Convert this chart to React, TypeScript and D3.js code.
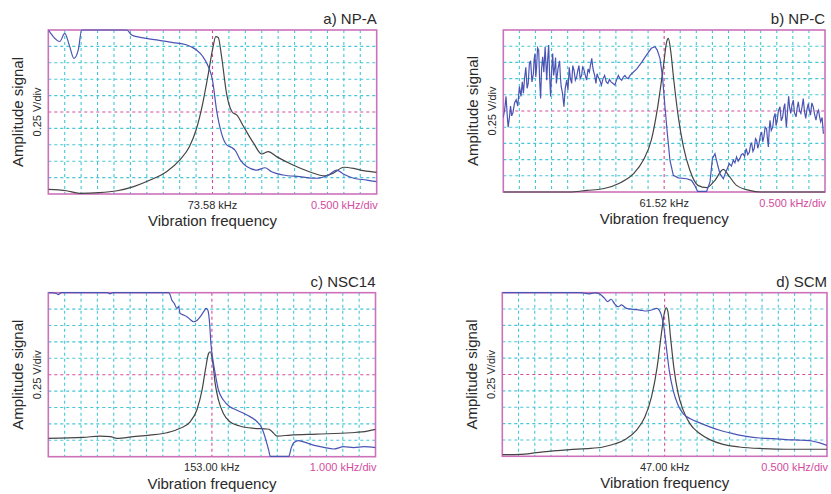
import React from "react";
import * as d3 from "d3";

// ---- Data (x in horizontal divisions 0..20, y in vertical divisions 0..10; 0.25 V/div) ----
const panelTitles = ["a) NP-A", "b) NP-C", "c) NSC14", "d) SCM"];
const centerLabels = ["73.58 kHz", "61.52 kHz", "153.00 kHz", "47.00 kHz"];
const scaleLabels = ["0.500 kHz/div", "0.500 kHz/div", "1.000 kHz/div", "0.500 kHz/div"];
const yAxisLabel = "Amplitude signal";
const yScaleLabel = "0.25 V/div";
const xAxisLabel = "Vibration frequency";

const npaBlack: [number, number][] = [
  [0, 0.28], [1.1, 0.2], [1.9, 0.04], [3.1, 0.08], [4.2, 0.2], [5.2, 0.45], [6.2, 0.85],
  [7.2, 1.36], [8.0, 2.07], [8.6, 2.9], [9.0, 3.9], [9.4, 5.5], [9.75, 7.36], [10.0, 8.8],
  [10.2, 9.6], [10.35, 9.55], [10.55, 8.4], [10.86, 6.1], [11.2, 5.0], [11.5, 4.8],
  [11.9, 4.1], [12.5, 3.1], [13.0, 2.44], [13.4, 2.58], [13.9, 2.28], [14.9, 1.77],
  [15.9, 1.36], [16.85, 1.1], [17.4, 1.3], [18.0, 1.63], [18.6, 1.56], [19.2, 1.42], [20, 1.32],
];
const npaBlue: [number, number][] = [
  [0, 10], [0.15, 9.8], [0.3, 9.6], [0.7, 9.3], [1.0, 9.8], [1.3, 9.0], [1.56, 8.27],
  [1.83, 8.8], [2.03, 10], [3.0, 10], [4.77, 10], [5.08, 9.7], [5.6, 9.55], [6.6, 9.4],
  [7.6, 9.23], [8.4, 9.1], [9.0, 8.8], [9.4, 8.4], [9.75, 7.76], [10.0, 6.95], [10.25, 5.1],
  [10.55, 3.7], [10.86, 3.0], [11.17, 2.83], [11.37, 2.68], [11.7, 2.07], [12.08, 1.67],
  [12.7, 1.46], [13.2, 1.6], [13.6, 1.36], [14.3, 1.16], [15.3, 1.06], [16.3, 0.96],
  [17.06, 1.16], [17.56, 1.46], [17.97, 1.22], [18.6, 0.96], [19.4, 0.85], [20, 0.75],
];
const npcBlack: [number, number][] = [
  [0, 0], [4.1, 0], [5.2, 0.1], [6.2, 0.2], [7.25, 0.56], [8.1, 1.13], [8.7, 1.96],
  [9.2, 3.2], [9.6, 5.26], [9.95, 7.73], [10.16, 9.28], [10.26, 9.48], [10.4, 8.76],
  [10.6, 6.9], [10.88, 4.64], [11.2, 2.78], [11.6, 1.34], [12.1, 0.41], [12.64, 0.27],
  [13.16, 0.72], [13.68, 1.4], [14.0, 1.03], [14.5, 0.41], [15.3, 0.1], [16, 0], [20, 0],
];
const npcBlue: [number, number][] = [
  [0, 4.6], [0.1, 5.2], [0.17, 5.9], [0.24, 4.8], [0.3, 4.0], [0.38, 4.6], [0.45, 5.3],
  [0.52, 4.7], [0.6, 4.9], [0.7, 5.5], [0.8, 5.7], [0.9, 5.3], [1.0, 6.5], [1.1, 5.9],
  [1.18, 6.8], [1.25, 6.1], [1.32, 7.0], [1.4, 7.7], [1.48, 6.4], [1.55, 6.7], [1.62, 7.9],
  [1.7, 8.1], [1.78, 6.8], [1.87, 7.3], [1.92, 8.2], [1.97, 8.55], [2.02, 7.1], [2.07, 7.7],
  [2.13, 8.9], [2.2, 8.76], [2.26, 6.9], [2.32, 5.77], [2.38, 7.6], [2.45, 8.35], [2.52, 7.4],
  [2.6, 8.97], [2.65, 7.9], [2.7, 6.9], [2.76, 8.2], [2.82, 9.07], [2.88, 7.2], [2.94, 5.9],
  [3.0, 7.4], [3.07, 8.55], [3.13, 7.2], [3.2, 7.7], [3.25, 8.3], [3.3, 6.7], [3.4, 7.6],
  [3.5, 8.1], [3.55, 7.1], [3.6, 6.5], [3.68, 6.1], [3.77, 5.26], [3.85, 6.4], [3.94, 6.9],
  [4.02, 6.3], [4.1, 7.7], [4.17, 7.0], [4.25, 6.7], [4.32, 7.8], [4.4, 7.5], [4.48, 6.9],
  [4.56, 7.1], [4.63, 7.5], [4.7, 7.8], [4.78, 7.0], [4.87, 7.2], [4.93, 7.7], [5.0, 7.6],
  [5.1, 7.2], [5.18, 6.9], [5.27, 7.6], [5.35, 7.4], [5.43, 7.9], [5.5, 8.25], [5.55, 7.8],
  [5.6, 7.5], [5.68, 7.2], [5.76, 6.7], [5.83, 7.3], [5.9, 7.1], [6.0, 6.9], [6.1, 6.6],
  [6.2, 7.0], [6.3, 7.2], [6.4, 6.8], [6.5, 6.7], [6.6, 6.95], [6.7, 6.8], [6.82, 6.7],
  [6.94, 6.6], [7.05, 6.95], [7.15, 7.2], [7.25, 7.0], [7.36, 6.9], [7.46, 7.1], [7.56, 7.2],
  [7.66, 7.05], [7.77, 7.0], [7.88, 7.2], [7.98, 7.3], [8.3, 7.6], [8.6, 8.0], [8.9, 8.45],
  [9.2, 8.87], [9.43, 8.97], [9.57, 8.76], [9.74, 8.25], [9.9, 7.1], [10.05, 5.26],
  [10.2, 3.6], [10.36, 1.96], [10.57, 1.03], [10.88, 0.87], [11.4, 0.82], [11.7, 0.72],
  [11.9, 0.41], [12.08, 0.04], [12.64, 0.04], [12.85, 0.62], [13.0, 2.06], [13.16, 2.37],
  [13.33, 1.65], [13.47, 1.13], [13.68, 0.82], [13.84, 1.24], [14.05, 1.75], [14.18, 1.6],
  [14.3, 1.96], [14.4, 1.8], [14.5, 2.16], [14.6, 1.9], [14.7, 2.06], [14.8, 2.3], [14.9, 2.37],
  [15.0, 2.2], [15.1, 2.68], [15.2, 2.3], [15.3, 2.47], [15.37, 2.9], [15.44, 3.0], [15.52, 2.5],
  [15.6, 2.68], [15.68, 3.3], [15.75, 3.2], [15.82, 2.7], [15.9, 3.0], [15.98, 3.5], [16.06, 3.7],
  [16.13, 3.1], [16.2, 3.4], [16.28, 4.0], [16.37, 3.9], [16.42, 3.3], [16.48, 2.78],
  [16.53, 3.8], [16.58, 4.43], [16.66, 3.8], [16.75, 4.0], [16.82, 4.6], [16.9, 4.85],
  [16.96, 4.1], [17.03, 4.43], [17.1, 5.0], [17.2, 5.26], [17.28, 4.4], [17.37, 4.64],
  [17.44, 5.2], [17.5, 5.46], [17.55, 4.6], [17.6, 4.0], [17.67, 5.0], [17.74, 5.9],
  [17.8, 5.2], [17.87, 4.85], [17.95, 5.4], [18.03, 5.67], [18.1, 4.9], [18.2, 4.64],
  [18.27, 5.2], [18.34, 5.57], [18.42, 5.0], [18.5, 4.85], [18.58, 5.3], [18.65, 5.77],
  [18.72, 5.0], [18.8, 4.54], [18.88, 5.1], [18.96, 5.46], [19.03, 5.0], [19.1, 4.74],
  [19.18, 5.5], [19.27, 5.26], [19.35, 4.8], [19.44, 4.43], [19.52, 4.9], [19.6, 5.05],
  [19.67, 4.6], [19.73, 4.33], [19.82, 4.6], [19.9, 3.6],
];
const nscBlack: [number, number][] = [
  [0, 1.12], [2.14, 1.18], [3.16, 1.26], [3.8, 1.22], [4.2, 1.12], [5.2, 1.22], [6.2, 1.32],
  [7.24, 1.46], [8.06, 1.73], [8.67, 2.13], [9.08, 2.85], [9.4, 4.07], [9.6, 5.28],
  [9.8, 6.3], [9.9, 6.4], [10.06, 5.7], [10.2, 4.47], [10.4, 3.46], [10.7, 2.64],
  [11.1, 2.13], [11.7, 1.87], [12.55, 1.73], [13.37, 1.69], [13.57, 1.63], [13.78, 1.42],
  [13.98, 1.26], [14.8, 1.32], [16.4, 1.38], [18.47, 1.46], [19.5, 1.56], [20, 1.67],
];
const nscBlue: [number, number][] = [
  [0, 10], [0.5, 9.95], [0.6, 9.88], [0.8, 10], [3.6, 10], [3.78, 9.93], [3.95, 10],
  [7.35, 10], [7.45, 9.86], [7.55, 9.55], [7.7, 9.35], [7.86, 9.04], [7.96, 9.15],
  [8.06, 8.74], [8.27, 8.64], [8.47, 8.54], [8.67, 8.37], [8.88, 8.23], [9.08, 8.3],
  [9.29, 8.54], [9.5, 8.84], [9.65, 9.04], [9.75, 8.94], [9.86, 8.13], [9.94, 6.9],
  [10.06, 5.9], [10.2, 5.08], [10.4, 4.07], [10.7, 3.46], [11.1, 3.05], [11.5, 2.85],
  [12.14, 2.54], [12.76, 2.13], [13.06, 1.73], [13.27, 1.12], [13.47, 0.4], [13.57, 0.02],
  [14.7, 0.02], [14.84, 0.5], [15.0, 0.85], [15.3, 0.98], [15.6, 0.9], [16.2, 0.71],
  [16.84, 0.57], [17.45, 0.47], [18.06, 0.61], [18.67, 0.55], [19.3, 0.61], [20, 0.55],
];
const scmBlack: [number, number][] = [
  [0, 0.1], [1.09, 0.12], [2.1, 0.22], [3.14, 0.33], [4.16, 0.41], [5.19, 0.47], [6.2, 0.57],
  [7.0, 0.78], [7.65, 1.08], [8.27, 1.6], [8.78, 2.4], [9.19, 3.63], [9.54, 5.47], [9.8, 7.5],
  [10.0, 8.84], [10.1, 9.08], [10.2, 8.84], [10.36, 7.3], [10.56, 5.47], [10.83, 3.84],
  [11.14, 2.82], [11.55, 2.0], [12.16, 1.39], [12.78, 1.02], [13.6, 0.73], [14.6, 0.57],
  [16.06, 0.47], [17.5, 0.43], [20, 0.43],
];
const scmBlue: [number, number][] = [
  [0, 10], [4.8, 10], [5.0, 9.98], [5.3, 9.93], [5.7, 9.99], [6.0, 9.92], [6.3, 9.65],
  [6.5, 9.45], [6.7, 9.6], [6.93, 9.3], [7.14, 9.14], [7.34, 9.25], [7.65, 9.04],
  [8.06, 8.98], [8.47, 8.94], [8.88, 8.88], [9.19, 8.94], [9.5, 9.04], [9.66, 8.94],
  [9.8, 8.63], [9.95, 7.92], [10.1, 6.7], [10.28, 5.27], [10.52, 4.04], [10.83, 3.12],
  [11.14, 2.61], [11.55, 2.31], [12.16, 2.04], [12.78, 1.8], [13.4, 1.59], [14.2, 1.39],
  [15.04, 1.22], [15.86, 1.12], [16.68, 1.08], [17.5, 1.02], [18.5, 0.98], [19.14, 0.92],
  [19.55, 0.82], [20, 0.67],
];

const blackSeries = [npaBlack, npcBlack, nscBlack, scmBlack];
const blueSeries = [npaBlue, npcBlue, nscBlue, scmBlue];
const noisyBlue = [false, true, false, false];

// ---- layout ----
const frames = [
  { x0: 48.3, x1: 376.7, y0: 30, y1: 194 },
  { x0: 503.3, x1: 825, y0: 30, y1: 192 },
  { x0: 48.3, x1: 375.5, y0: 292.7, y1: 456.7 },
  { x0: 502.3, x1: 827, y0: 292.7, y1: 456.3 },
];

const FRAME = "#cd72ba";
const GRID = "#45c6d8";
const CENTER = "#d34a9e";
const BLUE = "#4a54b4";
const BLACK = "#454545";
const TEXT = "#2a2a2a";
const FONT = "'Liberation Sans', Arial, Helvetica, sans-serif";

function Panel({ i }: { i: number }) {
  const f = frames[i];
  const x = d3.scaleLinear().domain([0, 20]).range([f.x0, f.x1]);
  const y = d3.scaleLinear().domain([0, 10]).range([f.y1, f.y0]);
  const smooth = d3.line<[number, number]>().x((d) => x(d[0])).y((d) => y(d[1])).curve(d3.curveMonotoneX);
  const straight = d3.line<[number, number]>().x((d) => x(d[0])).y((d) => y(d[1]));
  const xt = d3.range(1, 20);
  const yt = d3.range(1, 10);
  const cx = (f.x0 + f.x1) / 2;
  const cy = (f.y0 + f.y1) / 2;
  const clipId = `clip${i}`;
  return (
    <g>
      <defs>
        <clipPath id={clipId}>
          <rect x={f.x0} y={f.y0 - 1} width={f.x1 - f.x0} height={f.y1 - f.y0 + 2} />
        </clipPath>
      </defs>
      {xt.map((t) => (
        <line key={"vx" + t} x1={x(t)} x2={x(t)} y1={f.y0} y2={f.y1}
          stroke={t === 10 ? CENTER : GRID} strokeWidth={1.1} strokeDasharray="3,3" />
      ))}
      {yt.map((t) => (
        <line key={"hy" + t} y1={y(t)} y2={y(t)} x1={f.x0} x2={f.x1}
          stroke={t === 5 ? CENTER : GRID} strokeWidth={1.1} strokeDasharray="3,3" />
      ))}
      <rect x={f.x0} y={f.y0} width={f.x1 - f.x0} height={f.y1 - f.y0} fill="none" stroke={FRAME} strokeWidth={1.6} />
      <g clipPath={`url(#${clipId})`}>
        <path d={smooth(blackSeries[i]) || ""} fill="none" stroke={BLACK} strokeWidth={1.2} />
        <path d={(noisyBlue[i] ? straight(blueSeries[i]) : smooth(blueSeries[i])) || ""} fill="none" stroke={BLUE} strokeWidth={1.2} />
      </g>
      <text x={f.x1} y={f.y0 - 6} textAnchor="end" fontSize={15} fill={TEXT} fontFamily={FONT}>{panelTitles[i]}</text>
      <text x={cx} y={f.y1 + 14.5} textAnchor="middle" fontSize={11} fill={TEXT} fontFamily={FONT}>{centerLabels[i]}</text>
      <text x={f.x1 + 1} y={f.y1 + 14.5} textAnchor="end" fontSize={11} fill={CENTER} fontFamily={FONT}>{scaleLabels[i]}</text>
      <text x={cx} y={f.y1 + 32} textAnchor="middle" fontSize={15} fill={TEXT} fontFamily={FONT}>{xAxisLabel}</text>
      <text transform={`translate(${f.x0 - 25},${cy}) rotate(-90)`} textAnchor="middle" fontSize={15} fill={TEXT} fontFamily={FONT}>{yAxisLabel}</text>
      <text transform={`translate(${f.x0 - 7},${cy}) rotate(-90)`} textAnchor="middle" fontSize={11} fill={TEXT} fontFamily={FONT}>{yScaleLabel}</text>
    </g>
  );
}

export default function App() {
  return (
    <svg width={831} height={494} style={{ position: "absolute", left: 0, top: 0, background: "#fff" }}>
      {panelTitles.map((_, i) => (
        <Panel key={i} i={i} />
      ))}
    </svg>
  );
}
